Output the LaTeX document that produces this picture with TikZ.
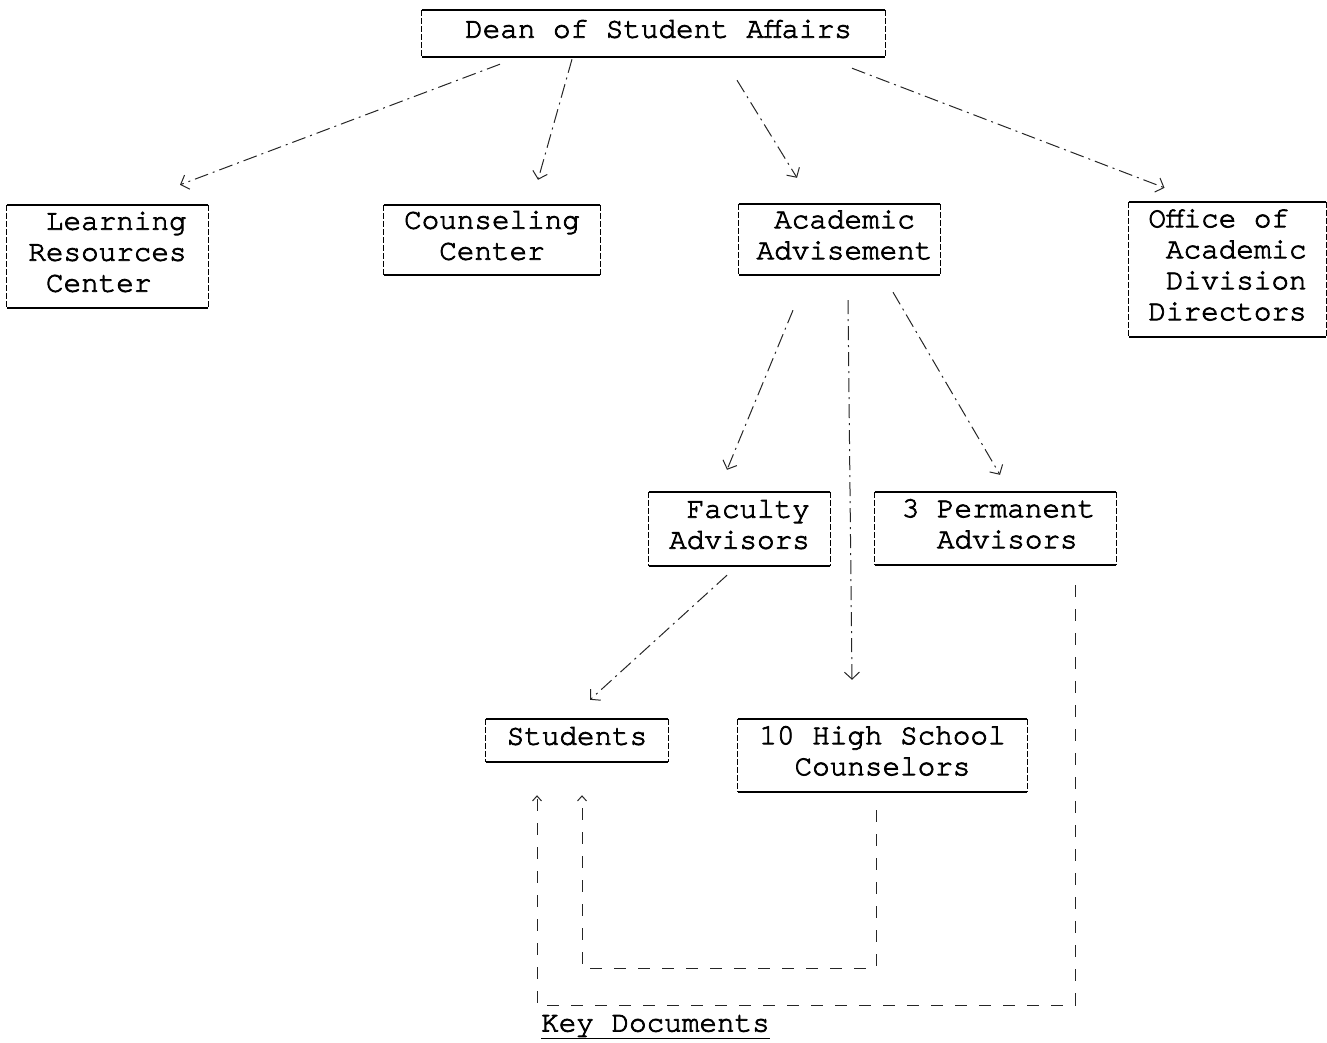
\documentclass[tikz,border=0pt]{standalone}
\usepackage{fontspec}
\setmonofont[FakeBold=2.6,AutoFakeBold=2.6]{texgyrecursor-regular.otf}
\usetikzlibrary{arrows.meta}
\newcommand\fixsp{\spaceskip=0.6em\relax\xspaceskip=0.6em\relax}
\newcommand\bxt[2][0pt]{\raisebox{2pt}[\height][\depth]{\fixsp\hspace*{#1}\begin{tabular}{@{}l@{}}#2\end{tabular}\hspace*{-#1}}}
\begin{document}
\begin{tikzpicture}[x=1pt,y=-1pt,
  box/.style={inner sep=0pt, align=center, font=\fontsize{29.3}{31}\selectfont\ttfamily\bfseries},
  conn/.style={line width=1pt, black!85, dash pattern=on 14pt off 5pt on 2pt off 5pt,
     -{Straight Barb[length=7pt,width=15pt,line width=1pt]}},
  docline/.style={line width=1pt, black!85, dash pattern=on 12pt off 12pt},
  edge/.style={line width=1.5pt},
  side/.style={line width=0.9pt, dash pattern=on 6pt off 2pt}
]
\useasboundingbox (0,0) rectangle (1327,1042);

\node[box, minimum width=463pt, minimum height=47pt] (dean) at (653.5,33.5) {\bxt[5pt]{Dean of Student Affairs}};
\node[box, minimum width=201pt, minimum height=103pt] (lrc) at (107.5,256.5) {\bxt{\ Learning\\Resources\\\ Center}};
\node[box, minimum width=216pt, minimum height=70pt] (cc) at (492,240) {\bxt{Counseling\\\ \ Center}};
\node[box, minimum width=201pt, minimum height=71pt] (aa) at (839.5,239.5) {\bxt[5pt]{\ Academic\\Advisement}};
\node[box, minimum width=197pt, minimum height=135pt] (oad) at (1227.5,269.5) {\bxt{Office of\\\ Academic\\\ Division\\Directors}};
\node[box, minimum width=181pt, minimum height=74pt] (fa) at (739.5,529) {\bxt{\ Faculty\\Advisors}};
\node[box, minimum width=241pt, minimum height=73pt] (pa) at (995.5,528.5) {\bxt[3pt]{3 Permanent\\\ \ Advisors}};
\node[box, minimum width=182pt, minimum height=43pt] (st) at (577,740.5) {\bxt{Students}};
\node[box, minimum width=289pt, minimum height=73pt] (hs) at (882.5,755.5) {\bxt{10 High School\\\ \ Counselors}};
\node[box, anchor=west] (kd) at (541,1027) {\fixsp\underline{Key Documents}};

\foreach \n in {dean,lrc,cc,aa,oad,fa,pa,st,hs}{
  \draw[edge] (\n.north west) -- (\n.north east);
  \draw[edge] (\n.south west) -- (\n.south east);
  \draw[side] (\n.north west) -- (\n.south west);
  \draw[side] (\n.north east) -- (\n.south east);
}

% from Dean
\draw[conn] ([xshift=-153.5pt,yshift=-7pt]dean.south) -- ([xshift=72.5pt,yshift=20pt]lrc.north);
\draw[conn] ([xshift=-81.5pt,yshift=-2pt]dean.south) -- ([xshift=46pt,yshift=25pt]cc.north);
\draw[conn] ([xshift=83.5pt,yshift=-23pt]dean.south) -- ([xshift=-42.5pt,yshift=26pt]aa.north);
\draw[conn] ([xshift=198.5pt,yshift=-11pt]dean.south) -- ([xshift=-63pt,yshift=14pt]oad.north);

% from Academic Advisement
\draw[conn] ([xshift=-46.5pt,yshift=-35pt]aa.south) -- ([xshift=-12.5pt,yshift=22pt]fa.north);
\draw[conn] ([xshift=8.5pt,yshift=-25pt]aa.south) -- ([xshift=-30.5pt,yshift=39pt]hs.north);
\draw[conn] ([xshift=53.5pt,yshift=-17pt]aa.south) -- ([xshift=4.5pt,yshift=17pt]pa.north);

% from Faculty Advisors
\draw[conn] ([xshift=-12.5pt,yshift=-9pt]fa.south) -- ([xshift=13pt,yshift=19pt]st.north);

% key document lines
\coordinate (hsfoot) at ([xshift=-6.5pt,yshift=-18pt]hs.south);
\coordinate (pafoot) at ([xshift=79.5pt,yshift=-20pt]pa.south);
\coordinate (stA) at ([xshift=5pt,yshift=-33pt]st.south);
\coordinate (stB) at ([xshift=-40pt,yshift=-33pt]st.south);
\coordinate (cornA) at (hsfoot |- 0,968);
\coordinate (cornB) at (pafoot |- 0,1005);
\draw[docline, -{Straight Barb[length=5pt,width=9pt,line width=1pt]}]
  (hsfoot) -- (cornA) -- (cornA -| stA) -- (stA);
\draw[docline, -{Straight Barb[length=5pt,width=9pt,line width=1pt]}]
  (pafoot) -- (cornB) -- (cornB -| stB) -- (stB);
\end{tikzpicture}
\end{document}
